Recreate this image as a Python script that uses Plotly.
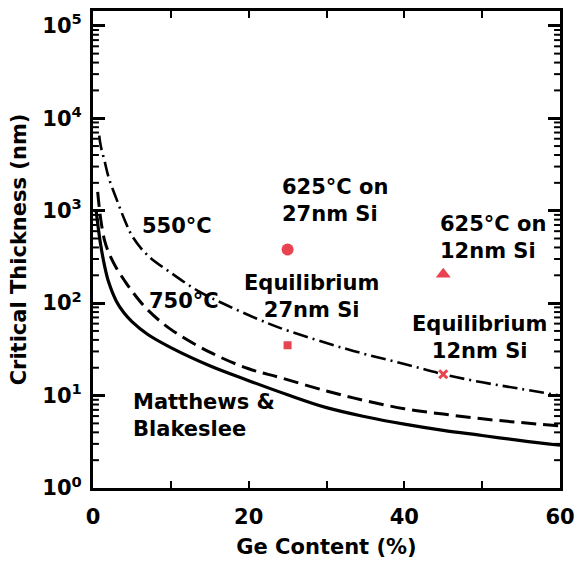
import math
import plotly.graph_objects as go

# ---- data ----
mb_x = [0.4, 0.7, 1, 1.5, 2, 3, 4, 5, 7, 10, 15, 20, 25, 30, 35, 40, 45, 50, 55, 60]
mb_y = [1000, 630, 420, 250, 170, 105, 78, 63, 46, 33, 21, 14.5, 10.2, 7.4, 5.9, 4.9, 4.2, 3.7, 3.25, 2.9]

t750_x = [0.6, 1, 1.5, 2, 3, 4, 5, 7, 10, 15, 20, 24, 30, 35, 40, 45, 50, 55, 60]
t750_y = [1600, 800, 470, 355, 240, 178, 135, 85, 52, 29.5, 19.5, 15.7, 11.2, 8.8, 7.2, 6.3, 5.6, 5.1, 4.7]

t550_x = [0.8, 1, 1.5, 2, 3, 4, 5.1, 7, 10, 13.6, 17.4, 21.2, 24, 30, 35, 40, 45, 50, 55, 60]
t550_y = [6500, 5000, 3400, 2300, 1350, 820, 520, 330, 213, 134, 93, 67, 54, 37, 28, 22, 17, 13.9, 11.8, 10]

pts_labels = ["625°C on 27nm Si", "Equilibrium 27nm Si", "625°C on 12nm Si", "Equilibrium 12nm Si"]
pts_x = [25, 25, 45, 45]
pts_y = [380, 35, 205, 17]
pts_symbols = ["circle", "square", "triangle-up", "x-thin"]
pts_sizes = [12, 8, 13, 8]

xtick_vals = [0, 10, 20, 30, 40, 50, 60]
xtick_text = ["0", "", "20", "", "40", "", "60"]
ytick_vals = [1, 10, 100, 1000, 10000, 100000]
ytick_text = ["10<sup>0</sup>", "10<sup>1</sup>", "10<sup>2</sup>", "10<sup>3</sup>", "10<sup>4</sup>", "10<sup>5</sup>"]
yminor_vals = [m * 10 ** k for k in range(0, 5) for m in range(2, 10)]

ann_text = ["550°C", "750°C", "Matthews &<br>Blakeslee", "625°C on<br>27nm Si",
            "Equilibrium<br>27nm Si", "625°C on<br>12nm Si", "Equilibrium<br>12nm Si"]
ann_x = [6.0, 7.0, 4.9, 24.0, 28.1, 44.3, 49.7]
ann_y = [10 ** 2.83, 10 ** 2.02, 10 ** 0.785, 10 ** 3.11, 10 ** 2.07, 10 ** 2.71, 10 ** 1.63]
ann_align = ["left", "left", "left", "left", "center", "left", "center"]

RED = "#e8434f"
FONT = "DejaVu Sans"
YRANGE = [0, 5.16]  # in decades
MARGIN = dict(l=93, r=18, t=8, b=78)
W, H = 583, 566
MINOR_LEN_FRAC = 6 / (W - MARGIN["l"] - MARGIN["r"])

fig = go.Figure()
# invisible anchor trace for the tick-carrying primary axis (decade units)
fig.add_trace(go.Scatter(x=[30], y=[1], mode="markers",
                         marker=dict(opacity=0), hoverinfo="skip", showlegend=False))
# data traces drawn on the logarithmic overlay axis
fig.add_trace(go.Scatter(x=mb_x, y=mb_y, yaxis="y2", mode="lines",
                         line=dict(color="black", width=3.2),
                         line_shape="spline", showlegend=False))
fig.add_trace(go.Scatter(x=t750_x, y=t750_y, yaxis="y2", mode="lines",
                         line=dict(color="black", width=3, dash="15px,7px"),
                         line_shape="spline", showlegend=False))
fig.add_trace(go.Scatter(x=t550_x, y=t550_y, yaxis="y2", mode="lines",
                         line=dict(color="black", width=2.6, dash="15px,5px,2px,5px"),
                         line_shape="spline", showlegend=False))
for lx, ly, sym, sz, nm in zip(pts_x, pts_y, pts_symbols, pts_sizes, pts_labels):
    fig.add_trace(go.Scatter(x=[lx], y=[ly], yaxis="y2", mode="markers", name=nm,
                             marker=dict(color=RED, symbol=sym, size=sz,
                                         line=dict(width=3 if sym == "x-thin" else 0, color=RED)),
                             showlegend=False))

for t, ax_, ay_, al in zip(ann_text, ann_x, ann_y, ann_align):
    fig.add_annotation(x=ax_, y=math.log10(ay_), xref="x", yref="y2", text=t, showarrow=False,
                       xanchor="left" if al == "left" else "center", yanchor="middle",
                       align=al, font=dict(family=FONT, size=21, color="black", weight="bold"))

# minor log ticks on the left and right frame (inside)
for v in yminor_vals:
    lv = math.log10(v)
    for x0, x1 in [(0, MINOR_LEN_FRAC), (1 - MINOR_LEN_FRAC, 1)]:
        fig.add_shape(type="line", xref="x domain", yref="y", x0=x0, x1=x1, y0=lv, y1=lv,
                      line=dict(color="black", width=2), layer="above")

fig.update_layout(
    width=W, height=H,
    margin=MARGIN,
    paper_bgcolor="white", plot_bgcolor="white",
    font=dict(family=FONT, color="black", weight="bold"),
    yaxis2=dict(
        type="log", range=YRANGE, overlaying="y", side="left", anchor="x",
        showticklabels=False, ticks="", showline=False, showgrid=False, zeroline=False,
    ),
)
fig.update_xaxes(
    range=[0, 60], tickvals=xtick_vals, ticktext=xtick_text,
    ticks="inside", ticklen=7, tickwidth=2, tickcolor="black",
    showline=True, linewidth=3, linecolor="black", mirror="ticks",
    showgrid=False, zeroline=False, ticklabelstandoff=8,
    tickfont=dict(family=FONT, size=21, weight="bold"),
    title=dict(text="Ge Content (%)", font=dict(family=FONT, size=21, weight="bold"), standoff=12),
)
fig.update_layout(yaxis=dict(
    type="linear", range=YRANGE, tickmode="array",
    tickvals=[math.log10(v) for v in ytick_vals], ticktext=ytick_text,
    ticks="inside", ticklen=12, tickwidth=2.5, tickcolor="black",
    showline=True, linewidth=3, linecolor="black", mirror="ticks",
    showgrid=False, zeroline=False, ticklabelstandoff=4,
    tickfont=dict(family=FONT, size=21, weight="bold"),
    title=dict(text="Critical Thickness (nm)", font=dict(family=FONT, size=21, weight="bold"), standoff=10),
))

fig.write_html("out.html")
